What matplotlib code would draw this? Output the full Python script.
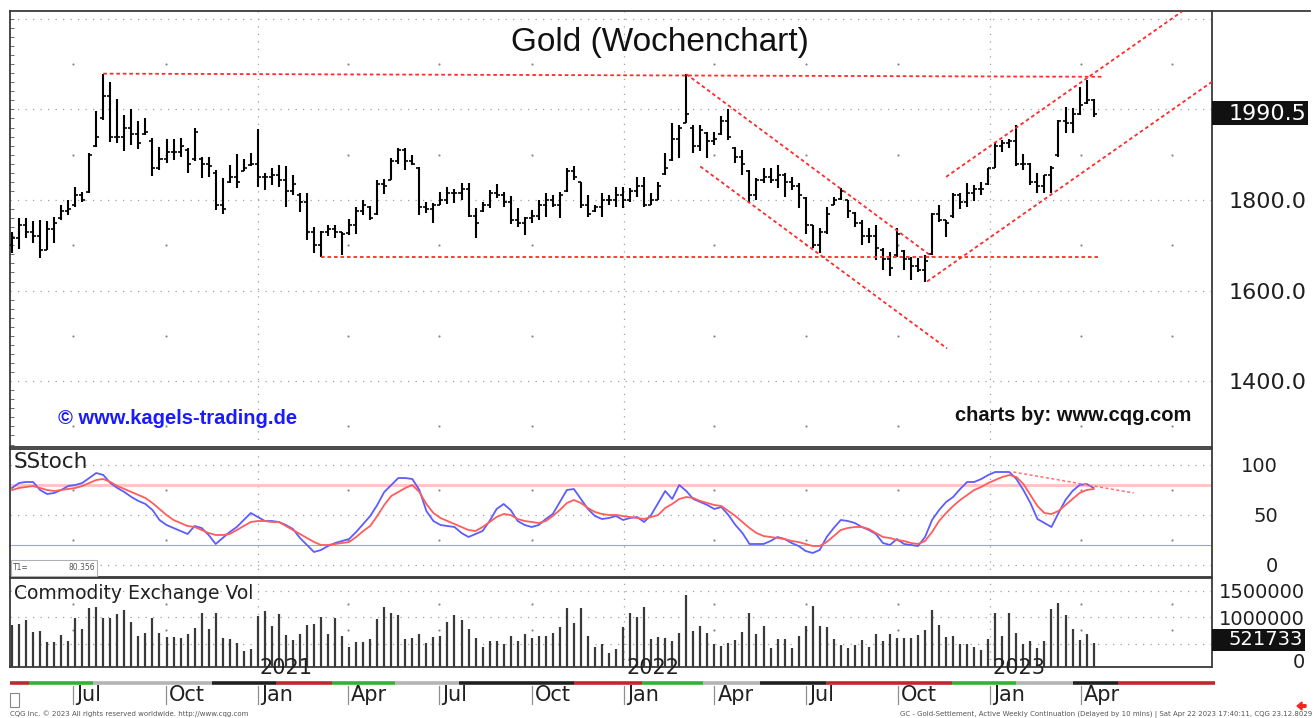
import numpy as np
import pandas as pd
import matplotlib
matplotlib.use("Agg")
import matplotlib.pyplot as plt
import matplotlib.dates as mdates
from matplotlib.patches import Rectangle, FancyArrow
from matplotlib.transforms import blended_transform_factory
from matplotlib.ticker import MultipleLocator

plt.rcParams['font.family'] = ['DejaVu Sans']

# ---------------- data (weekly bars, week ending Friday) ----------------
first_week = '2020-05-01'
high = [1730, 1760, 1760, 1754, 1756, 1754, 1763, 1789, 1801, 1829, 1818, 1903, 1997, 2079, 2061, 2024, 1987, 2000, 1974, 1982,
        1936, 1916, 1934, 1934, 1936, 1914, 1960, 1896, 1896, 1866, 1848, 1877, 1901, 1890, 1904, 1956, 1860, 1870, 1877, 1874,
        1855, 1815, 1815, 1741, 1732, 1745, 1745, 1730, 1757, 1785, 1800, 1787, 1844, 1846, 1892, 1914, 1914, 1899, 1872, 1796,
        1794, 1818, 1829, 1824, 1837, 1837, 1782, 1796, 1821, 1835, 1817, 1809, 1782, 1763, 1779, 1801, 1816, 1811, 1818, 1870,
        1875, 1840, 1811, 1789, 1815, 1811, 1829, 1828, 1826, 1851, 1850, 1815, 1840, 1903, 1969, 1965, 2079, 1965, 1965, 1951,
        1951, 1985, 2000, 1916, 1910, 1866, 1848, 1870, 1870, 1877, 1859, 1850, 1837, 1807, 1745, 1738, 1785, 1807, 1827, 1801,
        1774, 1756, 1738, 1745, 1693, 1686, 1738, 1690, 1675, 1671, 1679, 1771, 1789, 1756, 1816, 1816, 1837, 1834, 1840, 1870,
        1925, 1932, 1934, 1965, 1901, 1881, 1859, 1855, 1874, 1976, 2006, 2004, 2050, 2065, 2024]
low = [1682, 1691, 1715, 1704, 1671, 1690, 1706, 1756, 1767, 1785, 1796, 1815, 1916, 1976, 1929, 1925, 1909, 1921, 1912, 1943,
       1854, 1866, 1881, 1888, 1896, 1859, 1885, 1848, 1851, 1778, 1769, 1837, 1826, 1864, 1874, 1829, 1822, 1833, 1829, 1785,
       1811, 1774, 1712, 1684, 1675, 1720, 1715, 1679, 1723, 1726, 1767, 1756, 1767, 1813, 1844, 1879, 1866, 1877, 1767, 1771,
       1750, 1789, 1791, 1793, 1800, 1762, 1717, 1774, 1782, 1804, 1785, 1747, 1741, 1723, 1749, 1756, 1763, 1785, 1760, 1818,
       1844, 1782, 1763, 1774, 1763, 1789, 1785, 1782, 1796, 1807, 1785, 1789, 1800, 1855, 1885, 1892, 1969, 1904, 1909, 1892,
       1921, 1943, 1932, 1881, 1855, 1796, 1800, 1837, 1837, 1826, 1807, 1822, 1782, 1726, 1693, 1682, 1725, 1789, 1800, 1760,
       1741, 1701, 1704, 1668, 1646, 1632, 1675, 1646, 1624, 1642, 1620, 1679, 1752, 1719, 1760, 1780, 1785, 1798, 1811, 1833,
       1870, 1907, 1914, 1874, 1866, 1833, 1816, 1815, 1815, 1896, 1947, 1947, 1987, 2013, 1984]
open_ = [1700, 1715, 1745, 1730, 1720, 1690, 1735, 1760, 1775, 1790, 1810, 1818, 1920, 1980, 2030, 1940, 1940, 1960, 1945, 1945,
         1930, 1870, 1890, 1905, 1905, 1910, 1890, 1890, 1880, 1860, 1790, 1840, 1850, 1865, 1878, 1880, 1850, 1850, 1855, 1845,
         1820, 1810, 1795, 1730, 1700, 1730, 1735, 1730, 1728, 1745, 1775, 1785, 1770, 1835, 1845, 1885, 1910, 1885, 1870, 1785,
         1780, 1790, 1800, 1815, 1815, 1825, 1765, 1775, 1790, 1815, 1810, 1795, 1755, 1750, 1760, 1765, 1790, 1800, 1790, 1820,
         1865, 1840, 1790, 1775, 1785, 1800, 1800, 1810, 1800, 1820, 1830, 1790, 1800, 1858, 1888, 1935, 1970, 1960, 1920, 1948,
         1930, 1945, 1975, 1915, 1895, 1865, 1810, 1845, 1850, 1845, 1855, 1840, 1830, 1805, 1745, 1700, 1730, 1790, 1802, 1800,
         1772, 1750, 1720, 1720, 1690, 1670, 1678, 1688, 1670, 1655, 1645, 1680, 1770, 1755, 1765, 1810, 1795, 1815, 1825, 1835,
         1870, 1920, 1925, 1930, 1880, 1880, 1840, 1830, 1855, 1900, 1975, 1970, 1990, 2015, 2020]
close = [1715, 1745, 1730, 1720, 1690, 1735, 1750, 1775, 1780, 1810, 1800, 1900, 1940, 2030, 1940, 1940, 1960, 1945, 1925, 1950,
         1870, 1890, 1905, 1905, 1920, 1880, 1950, 1880, 1875, 1790, 1780, 1850, 1840, 1870, 1880, 1850, 1850, 1855, 1845, 1820,
         1835, 1795, 1730, 1700, 1730, 1735, 1730, 1725, 1745, 1775, 1790, 1760, 1835, 1830, 1885, 1910, 1885, 1880, 1785, 1780,
         1790, 1800, 1815, 1815, 1825, 1765, 1750, 1790, 1815, 1810, 1795, 1755, 1750, 1760, 1765, 1790, 1800, 1790, 1810, 1865,
         1850, 1790, 1770, 1785, 1800, 1800, 1810, 1800, 1820, 1830, 1790, 1800, 1830, 1870, 1935, 1960, 1990, 1920, 1955, 1930,
         1935, 1975, 1940, 1895, 1880, 1810, 1845, 1850, 1845, 1855, 1840, 1830, 1810, 1745, 1700, 1730, 1770, 1800, 1820, 1775,
         1750, 1720, 1720, 1695, 1670, 1650, 1725, 1670, 1655, 1645, 1665, 1770, 1755, 1750, 1810, 1795, 1815, 1825, 1825, 1870,
         1920, 1925, 1930, 1880, 1880, 1840, 1830, 1855, 1870, 1975, 1970, 1990, 2010, 2020, 1990.5]
stoch_k = [77, 82, 83, 83, 75, 71, 72, 75, 79, 80, 82, 87, 92, 90, 82, 77, 73, 68, 64, 61,
           55, 45, 40, 37, 34, 31, 39, 37, 30, 21, 27, 33, 38, 45, 52, 48, 44, 44, 43, 40,
           36, 27, 20, 13, 15, 19, 22, 24, 26, 33, 41, 49, 60, 73, 80, 87, 87, 86, 75, 54,
           44, 40, 39, 38, 32, 28, 31, 34, 44, 56, 61, 55, 44, 40, 38, 40, 46, 51, 63, 75,
           76, 66, 56, 49, 46, 47, 49, 45, 47, 48, 43, 50, 62, 74, 66, 80, 74, 66, 63, 60,
           56, 58, 50, 40, 32, 21, 21, 21, 24, 28, 26, 22, 19, 14, 12, 15, 28, 37, 45, 44,
           42, 38, 35, 31, 22, 20, 26, 21, 20, 19, 28, 45, 55, 63, 68, 76, 83, 83, 86, 90,
           93, 93, 93, 86, 75, 62, 46, 42, 38, 52, 65, 74, 80, 81, 77]
stoch_d = [75, 77, 78, 79, 77, 75, 74, 75, 76, 77, 79, 82, 85, 86, 83, 79, 76, 73, 70, 67,
           62, 56, 50, 45, 42, 39, 38, 35, 32, 30, 30, 31, 35, 39, 43, 44, 44, 43, 43, 39,
           35, 31, 27, 23, 20, 20, 21, 22, 23, 28, 34, 39, 49, 60, 69, 73, 77, 80, 73, 61,
           52, 47, 44, 41, 38, 35, 34, 38, 43, 48, 51, 50, 46, 44, 43, 42, 44, 49, 55, 62,
           65, 62, 57, 53, 51, 50, 50, 49, 48, 47, 46, 48, 50, 57, 61, 66, 68, 67, 64, 62,
           60, 59, 54, 49, 43, 37, 32, 29, 28, 27, 26, 24, 23, 21, 19, 19, 23, 29, 35, 37,
           38, 38, 36, 32, 28, 27, 25, 24, 22, 21, 24, 33, 44, 52, 59, 65, 70, 75, 78, 82,
           85, 88, 90, 88, 81, 70, 59, 52, 51, 54, 60, 66, 72, 75, 76]
volume_m = [0.85, 0.87, 0.95, 0.73, 0.74, 0.54, 0.54, 0.66, 0.55, 0.99, 0.77, 1.17, 1.20, 0.98, 0.98, 1.06, 1.14, 0.92, 0.65, 0.71,
            0.99, 0.70, 0.62, 0.62, 0.60, 0.68, 0.80, 1.09, 0.77, 1.09, 0.60, 0.58, 0.51, 0.37, 0.39, 1.03, 1.12, 0.84, 1.06, 0.66,
            0.57, 0.68, 0.85, 0.87, 1.01, 0.68, 0.98, 0.65, 0.44, 0.54, 0.54, 0.58, 0.97, 1.19, 1.08, 1.04, 0.58, 0.61, 0.68, 0.52,
            0.63, 0.65, 0.91, 1.04, 0.95, 0.77, 0.60, 0.43, 0.55, 0.55, 0.49, 0.65, 0.55, 0.68, 0.60, 0.65, 0.65, 0.71, 0.82, 1.17,
            0.89, 1.17, 0.65, 0.44, 0.49, 0.33, 0.39, 0.82, 1.09, 1.00, 1.20, 0.58, 0.62, 0.60, 0.55, 0.71, 1.42, 0.74, 0.84, 0.71,
            0.49, 0.46, 0.52, 0.57, 0.73, 1.08, 0.68, 0.84, 0.42, 0.58, 0.58, 0.41, 0.65, 0.84, 1.22, 0.84, 0.82, 0.58, 0.47, 0.42,
            0.47, 0.57, 0.44, 0.68, 0.55, 0.68, 0.61, 0.60, 0.60, 0.66, 0.76, 1.13, 0.85, 0.63, 0.65, 0.49, 0.49, 0.43, 0.38, 0.58,
            1.08, 0.65, 1.09, 0.70, 0.49, 0.55, 0.42, 0.55, 1.15, 1.28, 1.04, 0.78, 0.57, 0.68, 0.521733]

# red trend lines in the price panel: (start date, start price, end date, end price)
trend_lines = [
    ('2020-07-31', 2079, '2023-04-24', 2072),   # resistance
    ('2021-03-05', 1675, '2023-04-18', 1675),   # support
    ('2022-03-04', 2078, '2022-11-04', 1675),   # falling channel top
    ('2022-03-18', 1874, '2022-11-19', 1472),   # falling channel bottom
    ('2022-10-30', 1620, '2023-08-10', 2061),   # rising channel bottom
    ('2022-11-18', 1851, '2023-07-11', 2216),   # rising channel top
]
stoch_trend = ('2023-01-24', 93, '2023-05-24', 72)
stoch_upper, stoch_lower = 80, 20
t1_value = 80.356

strip_bounds = ['2020-04-29', '2020-05-18', '2020-07-21', '2020-11-16', '2021-01-19', '2021-03-16', '2021-05-18',
                '2021-07-21', '2021-11-12', '2022-01-19', '2022-03-21', '2022-05-17', '2022-07-21', '2022-11-24',
                '2023-01-27', '2023-03-24', '2023-05-08', '2023-08-13']
strip_colors = ['red', 'green', 'gray', 'black'] * 5

price_ticks = [1400, 1600, 1800]
stoch_ticks = [0, 50, 100]
vol_ticks = [1000000, 1500000]
month_ticks = ['2020-07-01', '2020-10-01', '2021-01-01', '2021-04-01', '2021-07-01', '2021-10-01',
               '2022-01-01', '2022-04-01', '2022-07-01', '2022-10-01', '2023-01-01', '2023-04-01', '2023-07-01']
month_labels = ['Jul', 'Oct', 'Jan', 'Apr', 'Jul', 'Oct', 'Jan', 'Apr', 'Jul', 'Oct', 'Jan', 'Apr', '']

# ---------------- layout ----------------
W, H = 1316, 718
fig = plt.figure(figsize=(W / 100, H / 100), dpi=100)
fig.patch.set_facecolor('white')


def frac(x0, y0, x1, y1):
    return [x0 / W, 1 - y1 / H, (x1 - x0) / W, (y1 - y0) / H]


ax_p = fig.add_axes(frac(10, 11, 1212, 447))
ax_s = fig.add_axes(frac(10, 449, 1212, 577))
ax_v = fig.add_axes(frac(10, 578, 1212, 667))
ax_b = fig.add_axes(frac(10, 667, 1215, 712))

dates = pd.date_range(first_week, periods=len(close), freq='W-FRI')
xs = mdates.date2num(dates)
high = np.array(high, float); low = np.array(low, float)
open_ = np.array(open_, float); close = np.array(close, float)
vol = np.array(volume_m) * 1e6

xl = mdates.date2num(pd.Timestamp('2020-04-29'))
xr = mdates.date2num(pd.Timestamp('2023-08-10'))
px_per_day = 1202 / (xr - xl)
for ax in (ax_p, ax_s, ax_v):
    ax.set_xlim(xl, xr)
    ax.tick_params(axis='x', bottom=False, labelbottom=False, top=False)
    for sp in ax.spines.values():
        sp.set_color('#3a3a3a'); sp.set_linewidth(1.3)
ax_b.set_xlim(xl, xl + 1205 / px_per_day)
ax_b.set_ylim(45, 0)
ax_b.axis('off')

ax_p.set_ylim(1254.6, 2217.3)
ax_s.set_ylim(-12, 116)
ax_v.set_ylim(57000, 1746000)

jan_x = mdates.date2num(pd.to_datetime([d for d in month_ticks if d.endswith('01-01')]))
qtr_x = mdates.date2num(pd.to_datetime([d for d in month_ticks if not d.endswith('01-01')]))

DOT = (0, (1, 5))


def grid(ax, full, dots):
    for lv in full:
        ax.axhline(lv, color='#a0a0a0', lw=0.9, ls=DOT, zorder=0)
    for jx in jan_x:
        ax.axvline(jx, color='#a0a0a0', lw=0.9, ls=DOT, zorder=0)
    gx, gy = np.meshgrid(qtr_x, dots)
    ax.scatter(gx.ravel(), gy.ravel(), s=2.5, color='#888888', lw=0, zorder=0)


grid(ax_p, [1400, 1600, 1800, 2000, 2200], [1300, 1500, 1700, 1900, 2100])
grid(ax_s, [0, 50, 100], [25, 75])
grid(ax_v, [500000, 1000000, 1500000], [750000, 1250000])

# ---------------- price bars ----------------
tick = 3.0
ax_p.vlines(xs, low, high, color='black', lw=1.5, zorder=3)
ax_p.hlines(open_, xs - tick, xs, color='black', lw=1.2, zorder=3)
ax_p.hlines(close, xs, xs + tick, color='black', lw=1.2, zorder=3)

for d0, p0, d1, p1 in trend_lines:
    ax_p.plot(mdates.date2num(pd.to_datetime([d0, d1])), [p0, p1], color='#ff2a2a', lw=1.3,
              ls=(0, (2, 1.6)), zorder=4)

ax_p.yaxis.tick_right()
ax_p.set_yticks(price_ticks)
ax_p.set_yticklabels([f'{v:.1f}' for v in price_ticks])
ax_p.tick_params(axis='y', length=0, pad=68.4, labelsize=16, colors='#202020')
plt.setp(ax_p.get_yticklabels(), ha='right')
ax_p.yaxis.set_minor_locator(MultipleLocator(20))
ax_p.tick_params(axis='y', which='minor', left=True, right=False, direction='in', length=3, color='#555')

# last price box
tr_p = blended_transform_factory(ax_p.transAxes, ax_p.transData)
ax_p.add_patch(Rectangle((1.0, close[-1] - 25), 96 / 1202, 53, transform=tr_p, facecolor='#111111',
                         edgecolor='none', clip_on=False, zorder=5))
ax_p.text(1 + 94 / 1202, close[-1], f'{close[-1]:.1f}', transform=tr_p, ha='right', va='center',
          color='white', fontsize=16, zorder=6, clip_on=False)

# ---------------- stochastic ----------------
ax_s.axhline(stoch_upper, color='#ffc4c4', lw=2.2, zorder=1)
ax_s.axhline(stoch_lower, color='#9c9cff', lw=0.8, zorder=1)
ax_s.plot(xs, stoch_k, color='#5c5cff', lw=1.3, zorder=3)
ax_s.plot(xs, stoch_d, color='#ff5c5c', lw=1.3, zorder=3)
d0, v0, d1, v1 = stoch_trend
ax_s.plot(mdates.date2num(pd.to_datetime([d0, d1])), [v0, v1], color='#ff7070', lw=1.1,
          ls=(0, (2, 1.6)), zorder=4)
ax_s.yaxis.tick_right()
ax_s.set_yticks(stoch_ticks)
ax_s.set_yticklabels([str(v) for v in stoch_ticks])
ax_s.tick_params(axis='y', length=0, pad=47.5, labelsize=14, colors='#202020')
plt.setp(ax_s.get_yticklabels(), ha='right')
ax_s.text(4 / 1202, 0.9, 'SStoch', transform=ax_s.transAxes, fontsize=15.5, ha='left', va='center',
          color='#202020')
# T1 box
ax_s.add_patch(Rectangle((1 / 1202, 1 / 128), 86 / 1202, 16 / 128, transform=ax_s.transAxes,
                         facecolor='white', edgecolor='#b0b0b0', lw=0.8, zorder=5))
ax_s.text(3 / 1202, 9 / 128, 'T1=', transform=ax_s.transAxes, fontsize=5.5, color='#555', va='center', zorder=6)
ax_s.text(85 / 1202, 9 / 128, f'{t1_value:.3f}', transform=ax_s.transAxes, fontsize=5.5, color='#555',
          va='center', ha='right', zorder=6)

# ---------------- volume ----------------
ax_v.vlines(xs, 0, vol, color='#3a3a3a', lw=1.6, zorder=3)
ax_v.yaxis.tick_right()
ax_v.set_yticks(vol_ticks)
ax_v.set_yticklabels([str(v) for v in vol_ticks])
ax_v.tick_params(axis='y', length=0, pad=67, labelsize=14, colors='#202020')
plt.setp(ax_v.get_yticklabels(), ha='right')
tr_v = blended_transform_factory(ax_v.transAxes, ax_v.transData)
ax_v.text(1295 / 1202, 150000, '0', transform=tr_v, ha='right', va='center', fontsize=14, color='#202020',
          clip_on=False)
ax_v.add_patch(Rectangle((1.0, vol[-1] - 160000), 93 / 1202, 420000, transform=tr_v, facecolor='#111111',
                         edgecolor='none', clip_on=False, zorder=5))
ax_v.text(1293 / 1202, vol[-1] + 50000, f'{int(round(vol[-1]))}', transform=tr_v, ha='right', va='center',
          color='white', fontsize=14, zorder=6, clip_on=False)
ax_v.text(4 / 1202, 0.83, 'Commodity Exchange Vol', transform=ax_v.transAxes, fontsize=13.5, ha='left',
          va='center', color='#202020')

# ---------------- bottom: strip, months, years ----------------
sb = mdates.date2num(pd.to_datetime(strip_bounds))
cmap = {'red': '#c0282d', 'green': '#2eb52e', 'gray': '#b4b4b4', 'black': '#202020'}
for i in range(len(sb) - 1):
    ax_b.plot([sb[i], sb[i + 1]], [16, 16], color=cmap[strip_colors[i]], lw=2.6, solid_capstyle='butt')
mx = mdates.date2num(pd.to_datetime(month_ticks))
for x, lab in zip(mx, month_labels):
    if not lab:
        continue
    ax_b.plot([x, x], [19, 37], color='#909090', lw=0.9)
    ax_b.text(x + 3, 28, lab, fontsize=15, ha='left', va='center', color='#202020')
for x, d in zip(jan_x, [m for m in month_ticks if m.endswith('01-01')]):
    ax_b.text(x + 2, 1.5, d[:4], fontsize=15, ha='left', va='center', color='#202020', clip_on=False)

# ---------------- figure-level text / decoration ----------------
fig.text(660 / W, 1 - 43 / H, 'Gold (Wochenchart)', fontsize=24, family='Liberation Sans', ha='center',
         va='center', color='#111111')
fig.text(58 / W, 1 - 418 / H, '© www.kagels-trading.de', fontsize=14.5, family='Liberation Sans',
         fontweight='bold', color='#1a1aff', ha='left', va='center')
fig.text(955 / W, 1 - 415 / H, 'charts by: www.cqg.com', fontsize=14.5, family='Liberation Sans',
         fontweight='bold', color='#111111', ha='left', va='center')
fig.text(10 / W, 1 - 714 / H, 'CQG Inc. © 2023 All rights reserved worldwide. http://www.cqg.com',
         fontsize=5, color='#555555', ha='left', va='center')
fig.text(1312 / W, 1 - 714 / H,
         'GC - Gold-Settlement, Active Weekly Continuation (Delayed by 10 mins) | Sat Apr 22 2023 17:40:11, CQG 23.12.8029',
         fontsize=5, color='#555555', ha='right', va='center')
fig.add_artist(plt.Line2D([1212 / W, 1310 / W], [1 - 11 / H, 1 - 11 / H], color='#3a3a3a', lw=1.3,
                          transform=fig.transFigure))
fig.add_artist(Rectangle((10 / W, 1 - 707 / H), 9 / W, 14 / H, fill=False, ec='#888888', lw=0.8,
                         transform=fig.transFigure))
fig.add_artist(FancyArrow(1306 / W, 1 - 706 / H, -9 / W, 0, width=2.5 / H, head_width=8 / H,
                          head_length=5 / W, length_includes_head=True, color='#ff2020',
                          transform=fig.transFigure))

fig.savefig('out.png', dpi=100, facecolor='white')
